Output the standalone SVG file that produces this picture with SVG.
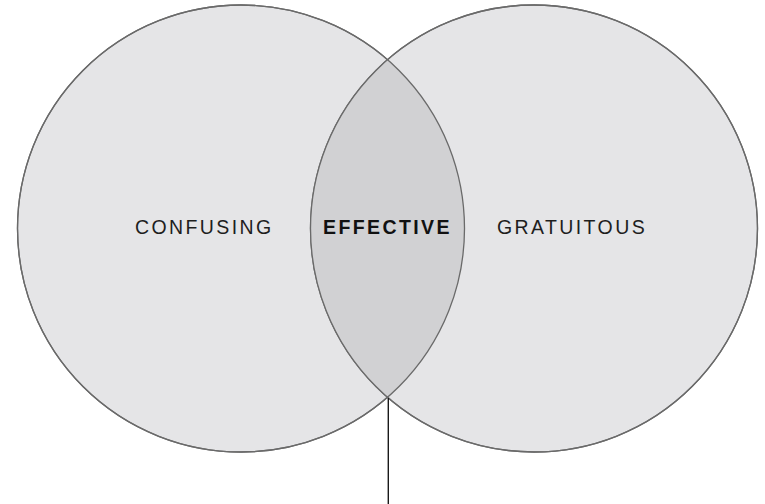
<svg xmlns="http://www.w3.org/2000/svg" width="765" height="504" viewBox="0 0 765 504">
  <style>
    .set { fill: #e5e5e7; stroke: #6a6a6a; stroke-width: 1.3; }
    .overlap { fill: #d1d1d3; stroke: none; }
    .label { font-family: "Liberation Sans", Arial, sans-serif; font-size: 19.5px; letter-spacing: 2.4px; fill: #1e1e1e; }
    .strong { font-weight: bold; fill: #111111; }
    .leader { stroke: #1a1a1a; stroke-width: 1.4; fill: none; }
  </style>
  <defs>
    <clipPath id="clip-left">
      <circle cx="241" cy="228.5" r="223.5"/>
    </clipPath>
  </defs>

  <g id="confusing">
    <circle class="set" cx="241" cy="228.5" r="223.5"/>
  </g>
  <g id="gratuitous">
    <circle class="set" cx="534" cy="228.5" r="223.5"/>
  </g>
  <g id="effective">
    <!-- lens where both sets overlap -->
    <circle class="overlap" cx="534" cy="228.5" r="223.5" clip-path="url(#clip-left)"/>
    <circle cx="241" cy="228.5" r="223.5" fill="none" stroke="#6a6a6a" stroke-width="1.3"/>
    <circle cx="534" cy="228.5" r="223.5" fill="none" stroke="#6a6a6a" stroke-width="1.3"/>
  </g>

  <g id="labels">
    <text class="label" x="135" y="234">CONFUSING</text>
    <text class="label strong" x="323" y="234">EFFECTIVE</text>
    <text class="label" x="497" y="234">GRATUITOUS</text>
  </g>

  <g id="connectors">
    <line class="leader" x1="388.3" y1="398" x2="388.3" y2="504"/>
  </g>
</svg>
